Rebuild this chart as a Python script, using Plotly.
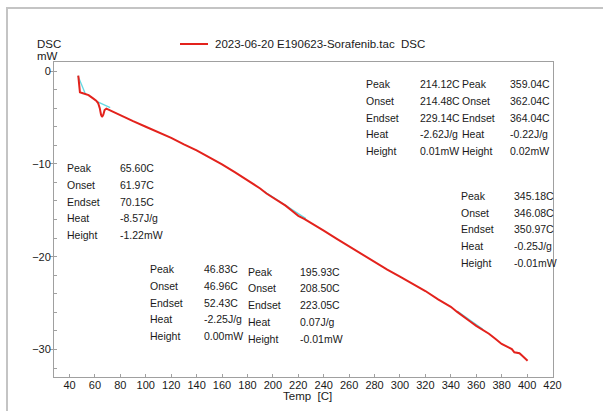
import plotly.graph_objects as go

# ---------------- data ----------------
temp = [46.9, 47.4, 48.2, 49.3, 52.6, 55, 58, 61, 62.5, 63.8, 64.8, 65.6, 66.6, 67.6,
        69.0, 70.5, 73.5, 80, 90, 100, 110, 120, 130, 140, 150, 160, 170, 180, 190,
        195, 200, 205, 210, 215, 220, 225, 230, 235, 240, 250, 260, 270, 280, 290,
        300, 310, 320, 330, 340, 345, 350, 355, 360, 365, 370, 375, 380, 385, 388,
        390, 392, 394, 396, 398, 400.4]
dsc = [-0.5, -1.5, -2.3, -2.35, -2.45, -2.6, -2.9, -3.2, -3.45, -4.0, -4.7, -4.95, -4.7, -4.2,
       -4.05, -4.15, -4.35, -4.8, -5.4, -6.0, -6.6, -7.2, -7.9, -8.55, -9.3, -10.05, -10.9,
       -11.8, -12.65, -13.2, -13.65, -14.05, -14.5, -15.05, -15.6, -15.95, -16.35, -16.75,
       -17.2, -18.05, -18.9, -19.75, -20.6, -21.4, -22.15, -22.9, -23.7, -24.6, -25.4,
       -25.95, -26.5, -26.95, -27.45, -27.9, -28.3, -28.85, -29.4, -29.75, -29.95, -30.3,
       -30.35, -30.4, -30.65, -30.9, -31.2]

# baselines (cyan) for each evaluated peak
base_t = [[46.6, 52.6], [61.8, 72.0], [193.0, 226.0], [345.0, 365.0]]
base_v = [[-0.5, -2.5], [-3.3, -3.95], [-12.95, -15.9], [-25.85, -27.8]]

series_name = "2023-06-20 E190623-Sorafenib.tac  DSC"
x_title = "Temp  [C]"
y_title = ["DSC", "mW"]
x_ticks = list(range(40, 421, 20))
y_ticks = [0, -10, -20, -30]

row_labels = ["Peak", "Onset", "Endset", "Heat", "Height"]
blocks_values = [
    ["65.60C", "61.97C", "70.15C", "-8.57J/g", "-1.22mW"],
    ["46.83C", "46.96C", "52.43C", "-2.25J/g", "0.00mW"],
    ["195.93C", "208.50C", "223.05C", "0.07J/g", "-0.01mW"],
    ["214.12C", "214.48C", "229.14C", "-2.62J/g", "0.01mW"],
    ["359.04C", "362.04C", "364.04C", "-0.22J/g", "0.02mW"],
    ["345.18C", "346.08C", "350.97C", "-0.25J/g", "-0.01mW"],
]

# ---------------- layout geometry (pixels) ----------------
W, H = 603, 411
ML, MR, MT, MB = 54, 50, 62, 34
PW, PH = W - ML - MR, H - MT - MB


def px(x):
    return (x - ML) / PW


def py(y):
    return (H - MB - y) / PH


# block positions: label x, value x, first row y (pixels)
block_pos = [(65, 118.3, 168.3), (148.3, 201.7, 269.3), (246, 298.3, 271.7),
             (364.3, 418.3, 84.3), (460, 507.5, 84.3), (459.3, 511.7, 196)]
ROW = 16.7

FONT = "Arial, 'Liberation Sans', sans-serif"
TXT = "#1a1a1a"
GRAY = "#a0a0a0"
FS = 10.5

fig = go.Figure()
for bt, bv in zip(base_t, base_v):
    fig.add_trace(go.Scatter(x=bt, y=bv, mode="lines", showlegend=False,
                             line=dict(color="#62d8e2", width=1.3), hoverinfo="skip"))
fig.add_trace(go.Scatter(x=temp, y=dsc, mode="lines", name=series_name, showlegend=False,
                         line=dict(color="#e3221c", width=2)))

annotations = []
for (lx, vx, y0), vals in zip(block_pos, blocks_values):
    for i, (lab, val) in enumerate(zip(row_labels, vals)):
        y = y0 + i * ROW
        annotations.append(dict(x=px(lx), y=py(y), xref="paper", yref="paper", text=lab,
                                showarrow=False, xanchor="left", yanchor="middle",
                                font=dict(family=FONT, size=FS, color=TXT)))
        annotations.append(dict(x=px(vx), y=py(y), xref="paper", yref="paper", text=val,
                                showarrow=False, xanchor="left", yanchor="middle",
                                font=dict(family=FONT, size=FS, color=TXT)))

# axis unit labels
for i, t in enumerate(y_title):
    annotations.append(dict(x=px(35), y=py(44 + 12 * i), xref="paper", yref="paper", text=t,
                            showarrow=False, xanchor="left", yanchor="middle",
                            font=dict(family=FONT, size=11.5, color=TXT)))
# legend text
annotations.append(dict(x=px(213), y=py(44), xref="paper", yref="paper", text=series_name,
                        showarrow=False, xanchor="left", yanchor="middle",
                        font=dict(family=FONT, size=11.5, color=TXT)))
# x title
annotations.append(dict(x=px(281), y=py(396), xref="paper", yref="paper", text=x_title,
                        showarrow=False, xanchor="left", yanchor="middle",
                        font=dict(family=FONT, size=11.5, color=TXT)))

shapes = [
    # outer frame (left + top)
    dict(type="path", xref="paper", yref="paper",
         path=f"M {px(7)} {py(420)} L {px(7)} {py(8)} L {px(620)} {py(8)}",
         line=dict(color="#c4c4c4", width=2)),
    # legend line
    dict(type="line", xref="paper", yref="paper", x0=px(180), x1=px(208), y0=py(44), y1=py(44),
         line=dict(color="#e3221c", width=2)),
]

fig.update_layout(
    width=W, height=H,
    margin=dict(l=ML, r=MR, t=MT, b=MB, pad=0),
    paper_bgcolor="white", plot_bgcolor="white",
    showlegend=False,
    annotations=annotations, shapes=shapes,
    font=dict(family=FONT, size=11, color=TXT),
    xaxis=dict(range=[27.8, 420.4], tickvals=x_ticks, ticks="inside", ticklen=3,
               tickcolor=GRAY, showline=True, linecolor=GRAY, linewidth=1, mirror=True,
               showgrid=False, zeroline=False, tickfont=dict(size=11, color=TXT),
               ticklabelstandoff=-2),
    yaxis=dict(range=[-32.96, 0.97], tickvals=y_ticks, ticks="outside", ticklen=3,
               tickcolor=GRAY, showline=True, linecolor=GRAY, linewidth=1, mirror=True,
               showgrid=False, zeroline=False, tickfont=dict(size=11, color=TXT),
               ticklabelstandoff=-3,
               minor=dict(ticks="inside", dtick=2, tick0=0, ticklen=3, tickcolor=GRAY,
                          showgrid=False)),
)

fig.write_html("out.html")
